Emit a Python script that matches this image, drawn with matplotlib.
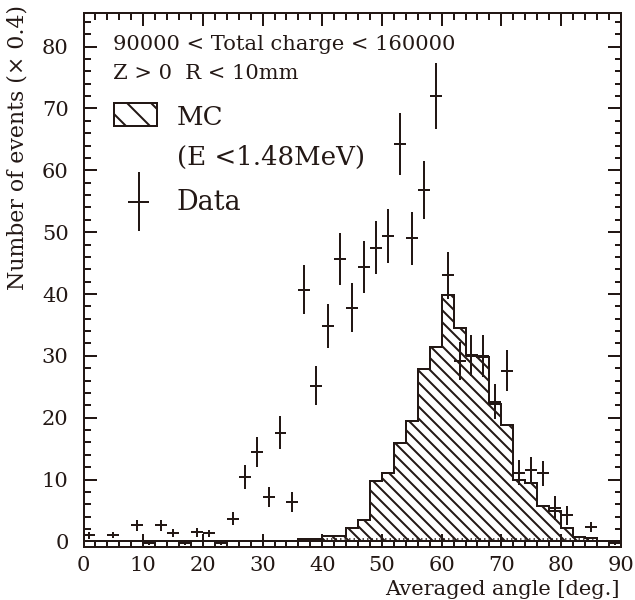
import matplotlib
matplotlib.use("Agg")
import matplotlib.pyplot as plt
import numpy as np
from matplotlib.patches import Rectangle
from matplotlib.lines import Line2D
from matplotlib.ticker import MultipleLocator

plt.rcParams['font.family'] = ['DejaVu Serif']
plt.rcParams['hatch.linewidth'] = 2.0
plt.rcParams['hatch.color'] = '#231815'

INK = '#231815'

# bin edges of the angle histogram (2 deg bins)
bin_edges = np.arange(0, 92, 2)
bin_centers = (bin_edges[:-1] + bin_edges[1:]) / 2

# MC (E < 1.48 MeV), one value per 2-deg bin
mc_counts = [0, 0, 0, 0, 0, 0, 0, 0, 0, 0,
             0, 0, 0, 0, 0, 0, 0, 0, 0.4, 0.4,
             0.9, 0.9, 2.2, 3.4, 9.7, 11.0, 15.9, 19.4, 27.8, 31.5,
             39.9, 34.5, 30.2, 29.8, 22.3, 18.9, 10.0, 9.4, 5.7, 5.0,
             2.2, 0.8, 0.6, 0, 0]

# data points and errors
data_counts = [1.0, 0, 1.1, 0, 2.6, -0.3, 2.6, 1.35, -0.3, 1.5,
               1.3, -0.3, 3.7, 10.4, 14.5, 7.2, 17.6, 6.4, 40.7, 25.2,
               34.8, 45.6, 37.8, 44.3, 47.5, 49.4, 64.3, 49.0, 56.8, 72.0,
               43.0, 29.2, 30.0, 30.0, 22.6, 27.6, 11.1, 11.5, 11.0, 5.4,
               4.2, 0, 2.3, 0, -0.3]
data_errors = [0.6, 0, 0.5, 0, 0.9, 0.3, 0.9, 0.6, 0.3, 0.7,
               0.6, 0.3, 1.1, 2.0, 2.4, 1.6, 2.7, 1.6, 4.0, 3.1,
               3.6, 4.2, 3.9, 4.2, 4.3, 4.4, 5.0, 4.3, 4.7, 5.3,
               3.8, 3.1, 3.3, 3.4, 2.8, 3.3, 2.0, 2.1, 2.0, 1.9,
               1.5, 0, 0.8, 0, 0.3]

fig = plt.figure(figsize=(635 / 72, 600 / 72), dpi=72)
ax = fig.add_axes([0.1315, 0.0883, 0.846, 0.8908])

# MC histogram, hatched
ax.stairs(mc_counts, bin_edges, fill=True, facecolor='none', edgecolor=INK,
          hatch='\\\\', linewidth=2)
ax.axhline(0, color=INK, lw=2)
ax.hlines(0.35, 40, 86, colors=INK, linestyles=(0, (1, 2)), lw=1.5)

# data
ax.errorbar(bin_centers, data_counts, yerr=data_errors, xerr=1, fmt='none',
            ecolor=INK, elinewidth=2, capsize=0)

ax.set_xlim(0, 90)
ax.set_ylim(-0.9, 85.5)
ax.xaxis.set_major_locator(MultipleLocator(10))
ax.xaxis.set_minor_locator(MultipleLocator(2))
ax.yaxis.set_major_locator(MultipleLocator(10))
ax.yaxis.set_minor_locator(MultipleLocator(2))
ax.tick_params(which='both', direction='in', top=True, right=True,
               colors=INK, width=2, labelsize=21)
ax.tick_params(which='major', length=13)
ax.tick_params(which='minor', length=6.5)
ax.tick_params(axis='x', pad=9)
ax.tick_params(axis='y', pad=15)
for s in ax.spines.values():
    s.set_linewidth(2)
    s.set_color(INK)

# annotations
ax.text(0.055, 0.930, '90000 < Total charge < 160000', transform=ax.transAxes,
        fontsize=21, color=INK, va='baseline')
ax.text(0.055, 0.875, 'Z > 0  R < 10mm', transform=ax.transAxes,
        fontsize=21, color=INK, va='baseline')

# hand-made legend
ax.add_patch(Rectangle((0.0568, 0.7877), 0.0806, 0.0436, transform=ax.transAxes,
                       facecolor='none', edgecolor=INK, hatch='\\', lw=2))
ax.text(0.1735, 0.7895, 'MC', transform=ax.transAxes, fontsize=26, color=INK,
        va='baseline')
ax.text(0.1735, 0.7147, '(E <1.48MeV)', transform=ax.transAxes, fontsize=26,
        color=INK, va='baseline')
ax.add_line(Line2D([0.1033, 0.1033], [0.593, 0.699], transform=ax.transAxes,
                   color=INK, lw=2))
ax.add_line(Line2D([0.0847, 0.1206], [0.646, 0.646], transform=ax.transAxes,
                   color=INK, lw=2))
ax.text(0.1735, 0.6305, 'Data', transform=ax.transAxes, fontsize=27, color=INK,
        va='baseline')

fig.text(620 / 635, 1 - 595 / 600, 'Averaged angle [deg.]', ha='right',
         va='baseline', fontsize=21, color=INK)
fig.text(18 / 635, 1 - 5 / 600, 'Number of events (× 0.4)', rotation=90,
         ha='center', va='top', fontsize=22, color=INK)

fig.savefig('out.png', dpi=72)
